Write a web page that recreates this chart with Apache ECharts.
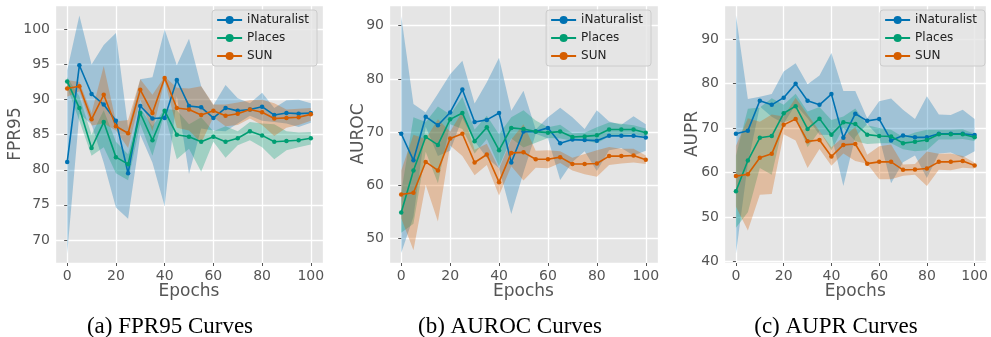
<!DOCTYPE html>
<html>
<head>
<meta charset="utf-8">
<script src="https://cdn.jsdelivr.net/npm/echarts@6/dist/echarts.min.js"></script>
<style>
  html, body { margin: 0; padding: 0; background: #fff; }
  #main { width: 991px; height: 337px; }
</style>
</head>
<body>
<div id="main"></div>
<script>
// x values shared by all three panels
var epochs = [0, 5, 10, 15, 20, 25, 30, 35, 40, 45, 50, 55, 60, 65, 70, 75, 80, 85, 90, 95, 100];
var seriesNames = ['iNaturalist', 'Places', 'SUN'];
var captions = ['(a) FPR95 Curves', '(b) AUROC Curves', '(c) AUPR Curves'];
var metricNames = ['FPR95', 'AUROC', 'AUPR'];

// (a) FPR95
var fprINat   = [81.1, 94.9, 90.8, 89.3, 87.0, 79.5, 89.1, 87.3, 87.4, 92.8, 89.1, 88.9, 87.4, 88.8, 88.4, 88.6, 89.0, 87.8, 88.1, 88.0, 88.1];
var fprINatLo = [68.0, 88.0, 86.5, 81.0, 74.6, 73.0, 85.0, 81.0, 74.8, 90.5, 79.4, 85.9, 85.6, 85.5, 86.6, 87.7, 87.0, 86.8, 86.6, 86.1, 86.7];
var fprINatHi = [94.2, 102.0, 95.0, 97.8, 99.5, 86.0, 92.9, 93.2, 100.0, 94.9, 98.7, 91.9, 89.2, 92.1, 90.2, 89.5, 91.0, 88.8, 89.9, 90.0, 89.5];
var fprPlaces   = [92.6, 88.8, 83.1, 86.8, 81.8, 80.8, 88.1, 84.2, 88.4, 85.0, 84.7, 84.0, 84.7, 84.0, 84.5, 85.5, 84.9, 84.0, 84.1, 84.2, 84.5];
var fprPlacesLo = [91.8, 87.0, 82.0, 83.2, 79.5, 78.5, 86.5, 82.0, 88.0, 81.5, 83.0, 79.7, 84.0, 81.7, 83.5, 84.2, 83.2, 81.5, 82.8, 83.2, 83.6];
var fprPlacesHi = [93.2, 90.5, 85.0, 88.5, 84.0, 82.2, 88.8, 86.2, 88.7, 88.5, 86.5, 87.5, 85.5, 86.2, 85.5, 86.8, 86.6, 86.5, 85.5, 85.3, 85.4];
var fprSun   = [91.6, 91.9, 87.2, 90.7, 86.2, 85.2, 91.4, 88.1, 93.1, 88.8, 88.6, 87.8, 88.4, 87.7, 88.0, 88.6, 88.2, 87.3, 87.4, 87.5, 87.9];
var fprSunLo = [90.4, 91.2, 86.3, 86.6, 85.6, 83.1, 90.0, 85.5, 92.7, 86.0, 85.6, 83.8, 87.5, 86.2, 86.4, 87.3, 86.4, 84.8, 86.0, 86.4, 87.0];
var fprSunHi = [92.8, 92.5, 88.1, 94.8, 86.9, 87.1, 92.9, 90.7, 93.3, 91.7, 91.6, 91.9, 89.3, 89.3, 89.6, 89.9, 90.0, 89.5, 88.6, 88.7, 88.8];

// (b) AUROC
var aurocINat   = [69.7, 64.7, 72.9, 71.3, 73.7, 78.0, 71.9, 72.3, 73.6, 64.3, 70.1, 70.1, 70.8, 67.9, 68.6, 68.5, 68.4, 69.3, 69.3, 69.3, 69.0];
var aurocINatLo = [47.3, 54.1, 71.0, 65.5, 66.5, 72.6, 68.3, 65.2, 63.2, 54.6, 62.4, 69.7, 68.8, 61.0, 64.4, 66.4, 62.7, 66.6, 67.0, 65.6, 66.5];
var aurocINatHi = [91.8, 75.3, 73.7, 77.2, 80.9, 83.4, 75.4, 79.4, 84.0, 74.0, 77.8, 70.5, 72.8, 74.6, 72.8, 70.6, 74.1, 72.0, 71.4, 73.0, 71.5];
var aurocPlaces   = [54.9, 62.8, 69.1, 67.6, 72.4, 73.6, 68.3, 70.9, 66.6, 70.8, 70.6, 70.1, 69.9, 70.1, 69.1, 69.2, 69.4, 70.5, 70.5, 70.5, 69.9];
var aurocPlacesLo = [51.1, 52.8, 66.3, 60.4, 71.5, 70.6, 66.0, 68.7, 63.6, 68.8, 67.1, 68.0, 68.9, 68.8, 68.4, 68.5, 67.9, 69.2, 69.4, 69.7, 69.1];
var aurocPlacesHi = [58.7, 72.8, 71.9, 74.8, 73.3, 76.6, 70.5, 73.1, 69.6, 72.8, 74.1, 72.2, 70.9, 71.4, 69.8, 69.9, 70.9, 71.8, 71.6, 71.3, 70.7];
var aurocSun   = [58.3, 58.6, 64.4, 62.8, 68.8, 69.7, 64.3, 65.8, 60.6, 66.1, 66.2, 64.9, 64.9, 65.3, 64.0, 64.0, 64.1, 65.5, 65.5, 65.6, 64.8];
var aurocSunLo = [53.8, 47.8, 60.1, 53.2, 67.5, 65.5, 61.9, 63.8, 58.1, 63.6, 60.9, 63.3, 63.2, 64.2, 62.8, 62.1, 61.6, 63.8, 64.1, 64.3, 64.0];
var aurocSunHi = [62.8, 69.5, 68.7, 72.4, 70.1, 73.9, 66.7, 67.8, 63.1, 68.6, 71.5, 66.5, 66.6, 66.4, 65.2, 65.9, 66.6, 67.2, 66.9, 66.9, 65.6];

// (c) AUPR
var auprINat   = [68.7, 69.4, 76.1, 75.2, 76.8, 79.9, 76.1, 75.2, 77.6, 67.8, 73.2, 71.6, 72.0, 67.2, 68.3, 67.9, 67.9, 68.7, 68.7, 68.7, 68.4];
var auprINatLo = [41.8, 62.0, 74.8, 72.5, 71.0, 75.2, 72.2, 68.5, 68.4, 57.0, 68.0, 70.9, 68.0, 57.6, 62.3, 63.8, 58.8, 64.3, 64.5, 63.3, 64.8];
var auprINatHi = [95.3, 76.5, 77.0, 77.6, 82.7, 84.5, 79.8, 81.8, 86.8, 78.3, 78.3, 72.2, 76.0, 76.6, 74.1, 72.0, 77.1, 73.0, 72.9, 74.1, 72.0];
var auprPlaces   = [55.8, 62.7, 67.8, 68.2, 73.3, 74.9, 69.8, 72.1, 68.5, 71.3, 70.9, 68.5, 68.2, 68.1, 66.6, 66.9, 67.3, 68.6, 68.6, 68.6, 67.9];
var auprPlacesLo = [47.6, 51.1, 61.0, 59.5, 71.3, 72.1, 65.7, 69.3, 65.0, 70.0, 67.0, 66.4, 66.6, 66.6, 65.2, 64.8, 65.0, 67.4, 67.4, 67.5, 67.1];
var auprPlacesHi = [63.8, 74.3, 74.6, 76.7, 75.2, 77.7, 73.7, 74.7, 71.8, 72.6, 74.4, 70.6, 70.0, 69.6, 68.0, 69.0, 69.6, 69.6, 69.6, 69.7, 68.7];
var auprSun   = [59.2, 59.6, 63.3, 64.2, 70.7, 72.0, 67.0, 67.3, 63.6, 66.2, 66.4, 62.0, 62.4, 62.4, 60.6, 60.7, 60.9, 62.4, 62.4, 62.6, 61.6];
var auprSunLo = [52.3, 47.0, 55.0, 55.2, 68.6, 67.2, 61.0, 65.3, 61.5, 64.3, 62.6, 62.0, 58.5, 58.5, 59.3, 59.5, 57.0, 60.6, 60.5, 61.1, 60.9];
var auprSunHi = [66.0, 72.2, 71.4, 73.0, 72.6, 76.8, 73.0, 69.3, 65.7, 68.0, 70.2, 64.0, 65.9, 66.3, 61.8, 61.9, 64.7, 64.2, 64.3, 63.7, 62.2];

var colors = ['#0072B2', '#009E73', '#D55E00'];
var bandColors = ['rgba(0,114,178,0.3)', 'rgba(0,158,115,0.3)', 'rgba(213,94,0,0.3)'];

var panels = [
    { mean: [fprINat, fprPlaces, fprSun], lo: [fprINatLo, fprPlacesLo, fprSunLo], hi: [fprINatHi, fprPlacesHi, fprSunHi],
      yMin: 66.7, yMax: 103.5, step: 5, left: 55, width: 268, nameGap: 31, legendRight: 674, capX: 165 },
    { mean: [aurocINat, aurocPlaces, aurocSun], lo: [aurocINatLo, aurocPlacesLo, aurocSunLo], hi: [aurocINatHi, aurocPlacesHi, aurocSunHi],
      yMin: 45.4, yMax: 93.9, step: 10, left: 389, width: 269, nameGap: 22, legendRight: 340, capX: 505 },
    { mean: [auprINat, auprPlaces, auprSun], lo: [auprINatLo, auprPlacesLo, auprSunLo], hi: [auprINatHi, auprPlacesHi, auprSunHi],
      yMin: 39.7, yMax: 97.6, step: 10, left: 724, width: 267, nameGap: 23, legendRight: 6, capX: 831 }
];

function pairs(vals) {
    return epochs.map(function (e, i) { return [e, vals[i]]; });
}

// shaded band drawn as one polygon, points placed with the axes' own scales
function bandSeries(k, s, lo, hi) {
    return {
        name: seriesNames[s] + ' band', type: 'custom', xAxisIndex: k, yAxisIndex: k,
        silent: true, z: 1,
        data: epochs.map(function (e, i) { return [e, lo[i], hi[i]]; }),
        encode: { x: 0, y: [1, 2] },
        renderItem: function (params, api) {
            if (params.dataIndex !== 0) return null;
            var pts = [];
            for (var i = 0; i < epochs.length; i++) pts.push(api.coord([epochs[i], hi[i]]));
            for (var j = epochs.length - 1; j >= 0; j--) pts.push(api.coord([epochs[j], lo[j]]));
            return {
                type: 'polygon',
                shape: { points: pts },
                style: { fill: bandColors[s], stroke: null }
            };
        }
    };
}

var grids = [], xAxes = [], yAxes = [], legends = [], titles = [], series = [];

panels.forEach(function (p, k) {
    grids.push({
        left: p.left, top: 5, width: p.width, height: 258,
        show: true, backgroundColor: '#E5E5E5', borderWidth: 0
    });
    xAxes.push({
        gridIndex: k, type: 'value', min: -5, max: 105,
        minInterval: 20, maxInterval: 20,
        name: 'Epochs', nameLocation: 'middle', nameGap: 20, nameMoveOverlap: false,
        nameTextStyle: { fontSize: 17, color: '#555', fontFamily: 'DejaVu Sans' },
        axisLine: { show: false },
        axisTick: { show: true, length: 3, lineStyle: { color: '#555' } },
        axisLabel: { color: '#555', fontSize: 14, margin: 6, fontFamily: 'DejaVu Sans',
                     showMinLabel: false, showMaxLabel: false },
        splitLine: { show: true, lineStyle: { color: '#fff', width: 1.3 } }
    });
    yAxes.push({
        gridIndex: k, type: 'value', min: p.yMin, max: p.yMax,
        minInterval: p.step, maxInterval: p.step,
        name: metricNames[k], nameLocation: 'middle', nameGap: p.nameGap, nameMoveOverlap: false,
        nameTextStyle: { fontSize: 17, color: '#555', fontFamily: 'DejaVu Sans' },
        axisLine: { show: false },
        axisTick: { show: true, length: 3, lineStyle: { color: '#555' } },
        axisLabel: { color: '#555', fontSize: 14, margin: 5, fontFamily: 'DejaVu Sans',
                     showMinLabel: false, showMaxLabel: false },
        splitLine: { show: true, lineStyle: { color: '#fff', width: 1.3 } }
    });
    legends.push({
        orient: 'vertical', right: p.legendRight, top: 10,
        data: seriesNames, itemWidth: 25, itemHeight: 10, itemGap: 6,
        padding: [4, 8, 4, 4],
        backgroundColor: 'rgba(229,229,229,0.8)', borderColor: '#cccccc', borderWidth: 1, borderRadius: 3,
        textStyle: { fontSize: 12, color: '#222', fontFamily: 'DejaVu Sans' }
    });
    titles.push({
        text: captions[k], left: p.capX, top: 310, textAlign: 'center',
        textStyle: { fontFamily: 'Liberation Serif', fontSize: 23, fontWeight: 'normal', color: '#000' }
    });

    for (var s = 0; s < 3; s++) {
        series.push(bandSeries(k, s, p.lo[s], p.hi[s]));
    }
    for (var m = 0; m < 3; m++) {
        series.push({
            name: seriesNames[m], type: 'line', xAxisIndex: k, yAxisIndex: k,
            data: pairs(p.mean[m]), symbol: 'circle', symbolSize: 4.5, z: 3,
            color: colors[m], lineStyle: { width: 1.6, color: colors[m] },
            itemStyle: { color: colors[m] }
        });
    }
});

var myChart = echarts.init(document.getElementById('main'));
myChart.setOption({
    animation: false,
    textStyle: { fontFamily: 'DejaVu Sans' },
    title: titles,
    grid: grids,
    xAxis: xAxes,
    yAxis: yAxes,
    legend: legends,
    series: series
});
</script>
</body>
</html>
